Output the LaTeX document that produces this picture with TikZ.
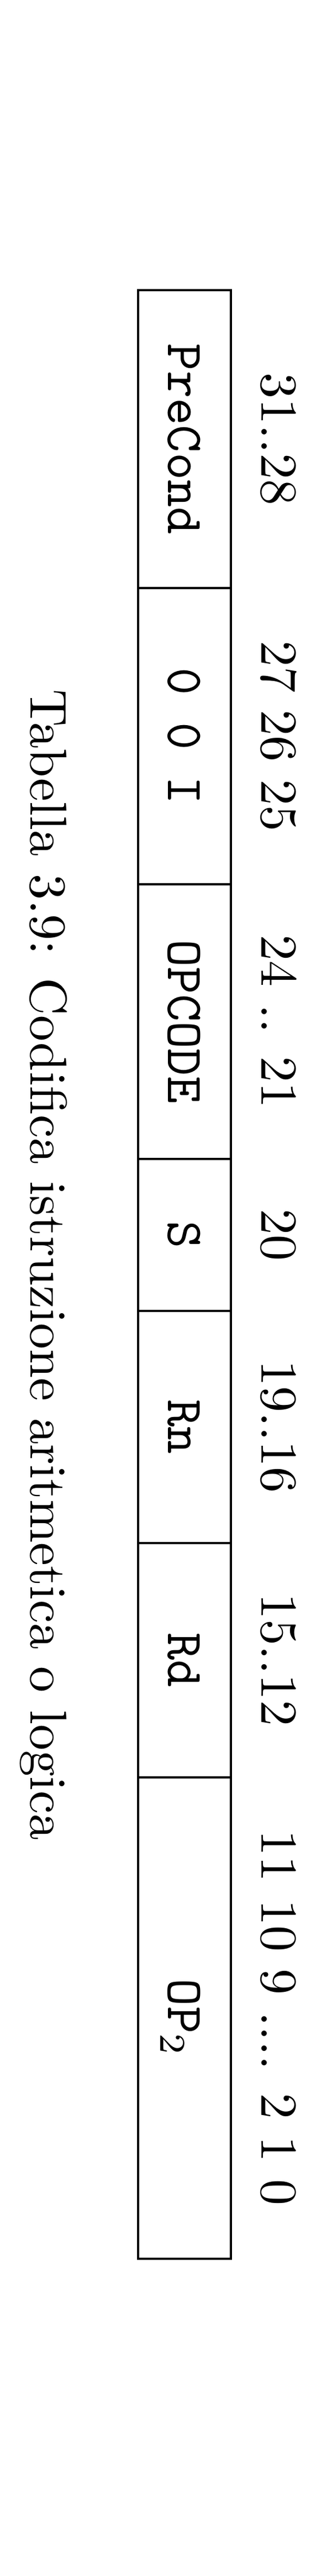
\documentclass[tikz,border=0pt]{standalone}
\usepackage{xcolor}
\usepackage{tikz}
\usetikzlibrary{positioning}
\tikzstyle{cell} = [draw, outer sep=0pt, inner sep=0pt, minimum height=0.628cm, text height=6.2pt, text depth=0pt, font=\ttfamily]
\tikzstyle{bits} = [anchor=base, inner sep=0pt]

\begin{document}
\begin{tikzpicture}
  \begin{scope}[rotate=-90, transform shape]
  	\useasboundingbox (0,0) rectangle (17.427,2.247);
  	\node[cell, minimum width=2.015cm] (precond) at (2.9705,1.249) {PreCond};
  	\node[cell, minimum width=2.004cm, right=0pt of precond] (flags) {0 0 I};
  	\node[cell, minimum width=1.858cm, right=0pt of flags] (opcode) {OPCODE};
  	\node[cell, minimum width=1.028cm, right=0pt of opcode] (sbit) {S};
  	\node[cell, minimum width=1.570cm, right=0pt of sbit] (rn) {Rn};
  	\node[cell, minimum width=1.585cm, right=0pt of rn] (rd) {Rd};
  	\node[cell, minimum width=3.257cm, right=0pt of rd] (optwo) {OP$_2$};
  	\node[above=5.85pt of precond.north, bits] (bprecond) {31..28};
  	\node[above=5.85pt of flags.north, bits] (bflags) {27 26 25};
  	\node[above=5.85pt of opcode.north, bits] (bopcode) {24 .. 21};
  	\node[above=5.85pt of sbit.north, bits] (bsbit) {20};
  	\node[above=5.85pt of rn.north, bits] (brn) {19..16};
  	\node[above=5.85pt of rd.north, bits] (brd) {15..12};
  	\node[above=5.85pt of optwo.north, bits] (boptwo) {11 10 9 .... 2 1 0};
  	\node[bits] (caption) at (8.555,0.209) {Tabella 3.9: Codifica istruzione aritmetica o logica};
  \end{scope}
\end{tikzpicture}
\end{document}
